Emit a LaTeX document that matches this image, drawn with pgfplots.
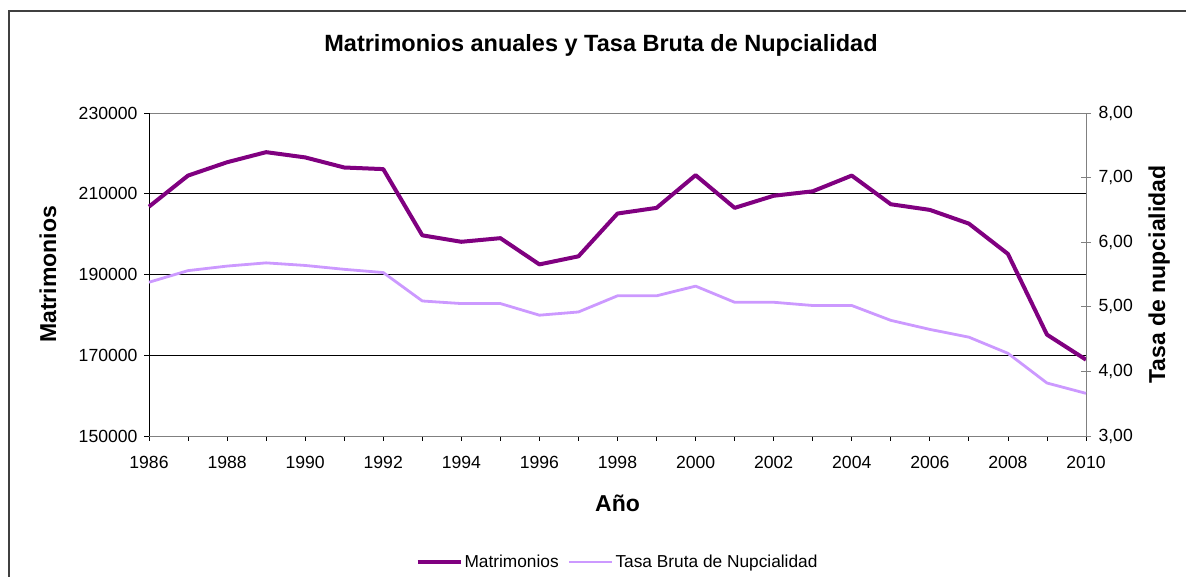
\documentclass[border=0pt]{standalone}
\usepackage{fontspec}
\setmainfont{Liberation Sans}
\usepackage{pgfplots}
\pgfplotsset{compat=1.18}
\definecolor{matr}{HTML}{800080}
\definecolor{tasa}{HTML}{CC99FF}
\definecolor{framec}{HTML}{404040}
\pgfplotstableread{
year matr
1986 206800
1987 214500
1988 217800
1989 220300
1990 219000
1991 216500
1992 216100
1993 199700
1994 198100
1995 199000
1996 192500
1997 194500
1998 205100
1999 206500
2000 214600
2001 206500
2002 209500
2003 210600
2004 214500
2005 207400
2006 206000
2007 202600
2008 195100
2009 175100
2010 168900
}\matrtable
\pgfplotstableread{
year tasa
1986 5.38
1987 5.56
1988 5.63
1989 5.68
1990 5.64
1991 5.58
1992 5.53
1993 5.09
1994 5.05
1995 5.05
1996 4.87
1997 4.92
1998 5.17
1999 5.17
2000 5.32
2001 5.07
2002 5.07
2003 5.02
2004 5.02
2005 4.79
2006 4.65
2007 4.53
2008 4.28
2009 3.82
2010 3.66
}\tasatable
\begin{document}
\begin{tikzpicture}[x=1pt,y=1pt]
\useasboundingbox (0,0) rectangle (1186,577);
\draw[framec, line width=1.5pt] (9,-5) -- (9,566) -- (1195,566);
\node[font=\fontsize{23.5}{27}\selectfont\bfseries] at (601,532) {Matrimonios anuales y Tasa Bruta de Nupcialidad};
\begin{axis}[
  at={(149pt,141pt)}, anchor=south west, width=937pt, height=323pt, scale only axis,
  xmin=1986, xmax=2010, ymin=150000, ymax=230000,
  xtick={1986,1988,...,2010}, minor xtick={1987,1989,...,2009},
  ytick={150000,170000,...,230000},
  ymajorgrids, major grid style={black, line width=0.8pt},
  tick align=outside, major tick length=5pt, minor tick length=5pt,
  xtick pos=left, ytick pos=left,
  separate axis lines,
  x axis line style={gray, line width=0.8pt},
  y axis line style={black, line width=0.8pt},
  tick style={black, line width=0.8pt},
  scaled y ticks=false,
  /pgf/number format/.cd, fixed, precision=0, set thousands separator={}, assume math mode=true, /pgfplots/.cd,
  ticklabel style={font=\fontsize{17.6}{20}\selectfont},
  xticklabel style={yshift=-12pt},
  yticklabel style={xshift=-3pt},
  xlabel={Año}, xlabel style={font=\fontsize{23}{27}\selectfont\bfseries, at={(axis description cs:0.5,-0.2074)}, anchor=center},
  ylabel={Matrimonios}, ylabel style={font=\fontsize{23}{27}\selectfont\bfseries, at={(axis description cs:-0.108,0.5)}, anchor=center},
  clip=false,
]
\addplot[matr, line width=4pt, line join=round] table[x=year, y=matr] {\matrtable};
\end{axis}
\begin{axis}[
  at={(149pt,141pt)}, anchor=south west, width=937pt, height=323pt, scale only axis,
  xmin=1986, xmax=2010, ymin=3, ymax=8,
  axis x line=none, axis y line*=right,
  ytick={3,4,...,8},
  tick align=center, major tick length=10pt,
  axis line style={gray, line width=0.8pt},
  tick style={gray, line width=0.8pt},
  yticklabel style={font=\fontsize{17.6}{20}\selectfont, xshift=4pt, /pgf/number format/.cd, fixed, fixed zerofill, precision=2, use comma, assume math mode=true},
  ylabel={Tasa de nupcialidad}, ylabel style={font=\fontsize{23}{27}\selectfont\bfseries, at={(axis description cs:1.078,0.5)}, anchor=center},
  clip=false,
  legend columns=2,
  legend style={at={(0.5,-0.39)}, anchor=center, draw=none, fill=none, font=\fontsize{17.3}{20}\selectfont, /tikz/every even column/.append style={column sep=7pt}},
  legend image code/.code={\draw[#1] (0pt,0pt) -- (43pt,0pt);},
]
\addlegendimage{matr, line width=4pt}
\addlegendentry{Matrimonios}
\addplot[tasa, line width=2.8pt, line join=round] table[x=year, y=tasa] {\tasatable};
\addlegendentry{Tasa Bruta de Nupcialidad}
\end{axis}
\end{tikzpicture}
\end{document}
